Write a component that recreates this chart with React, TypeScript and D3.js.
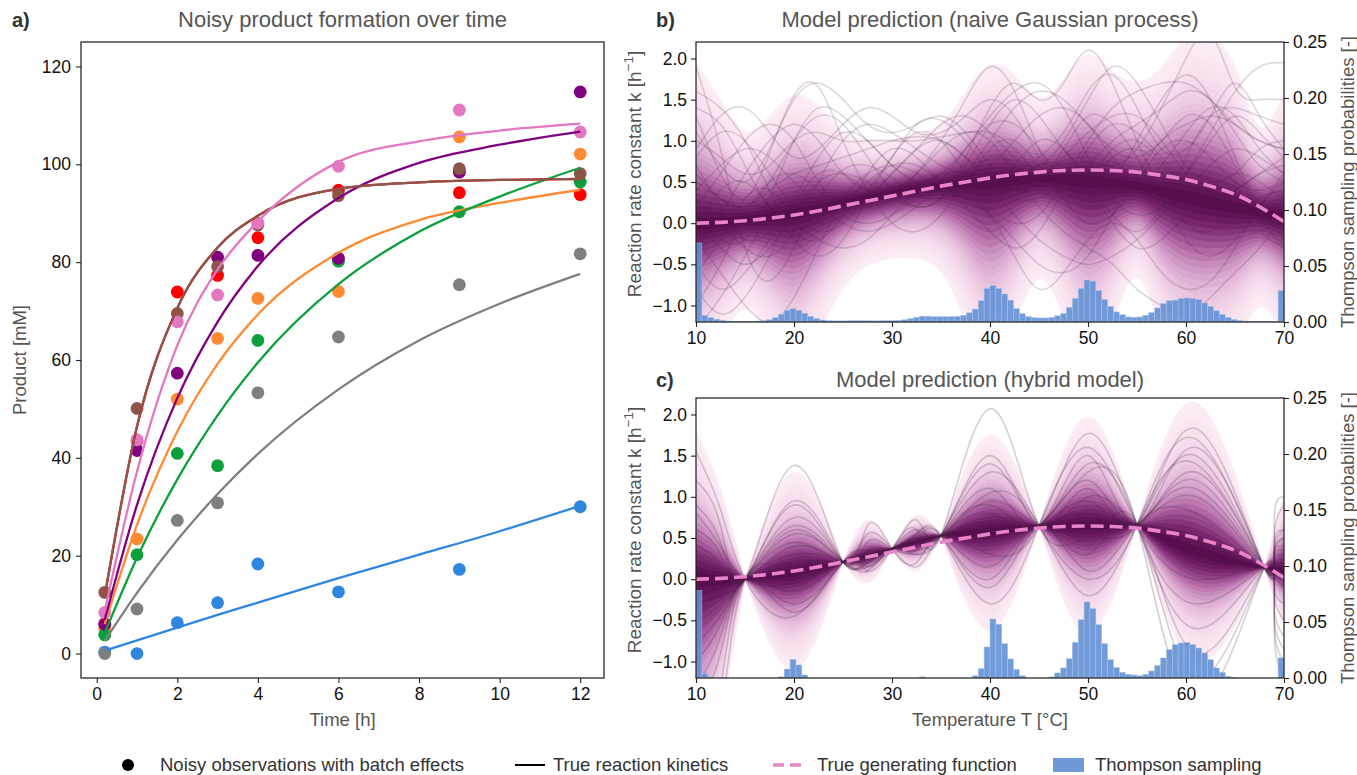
import React, { useEffect, useRef } from "react"
import * as d3 from "d3"

// ---------- panel a: noisy product formation ----------
const obsTimes = [0.2, 1, 2, 3, 4, 6, 9, 12]
const batchColors = ["#2f86de", "#ff8a33", "#0ca03c", "#ff0000", "#800080", "#8c564b", "#e377c2", "#7f7f7f"]
const batchObs = [
  [0.3, 0.0, 6.3, 10.4, 18.3, 12.6, 17.2, 30.0],
  [5.0, 23.4, 52.0, 64.4, 72.6, 74.0, 105.6, 102.1],
  [3.8, 20.2, 40.9, 38.4, 64.0, 80.2, 90.3, 96.4],
  [6.1, 43.5, 73.9, 77.3, 85.0, 94.7, 94.2, 93.8],
  [6.0, 41.5, 57.3, 81.0, 81.4, 80.8, 98.4, 114.8],
  [12.5, 50.1, 69.5, 79.1, 87.6, 93.6, 99.1, 98.1],
  [8.4, 43.7, 67.8, 73.3, 88.0, 99.6, 111.1, 106.6],
  [0.0, 9.1, 27.2, 30.8, 53.3, 64.7, 75.4, 81.7],
]
const curveTimes = [0.2, 1, 2, 3, 4, 6, 8, 10, 12]
const batchCurves = [
  [0.6, 2.7, 5.3, 7.9, 10.4, 15.4, 20.2, 25.0, 30.2],
  [6.0, 26.3, 45.4, 59.2, 69.3, 81.9, 88.6, 92.1, 94.8],
  [4.2, 19.6, 35.6, 48.7, 59.5, 75.5, 86.2, 93.4, 99.3],
  [11.8, 46.4, 70.6, 83.0, 89.5, 95.0, 96.3, 96.8, 97.0],
  [6.9, 30.4, 52.2, 67.8, 79.2, 93.1, 100.3, 104.0, 106.7],
  [11.8, 46.4, 70.6, 83.0, 89.5, 95.0, 96.3, 96.8, 97.0],
  [8.7, 37.2, 63.0, 78.5, 88.3, 100.5, 104.7, 106.9, 108.3],
  [2.6, 12.4, 23.2, 32.6, 40.8, 54.0, 64.0, 71.5, 77.6],
]

// ---------- panel b: naive GP ----------
const gridT = [10, 12.5, 15, 17.5, 20, 22.5, 25, 27.5, 30, 32.5, 35, 37.5, 40, 42.5, 45, 47.5, 50, 52.5, 55, 57.5, 60, 62.5, 65, 67.5, 70]
const trueK = [0.0, 0.01, 0.03, 0.06, 0.1, 0.15, 0.21, 0.27, 0.33, 0.39, 0.45, 0.5, 0.55, 0.59, 0.62, 0.64, 0.645, 0.64, 0.62, 0.58, 0.53, 0.45, 0.35, 0.2, 0.02]
const gpMed = [-0.02, 0.01, 0.04, 0.08, 0.12, 0.18, 0.25, 0.31, 0.37, 0.42, 0.46, 0.49, 0.51, 0.53, 0.54, 0.54, 0.52, 0.49, 0.45, 0.39, 0.32, 0.25, 0.19, 0.13, 0.08]
const gpUp = [1.95, 1.5, 1.12, 1.3, 1.55, 1.42, 1.12, 1.02, 1.02, 1.08, 1.22, 1.6, 1.92, 1.8, 1.52, 1.75, 2.05, 1.85, 1.72, 1.9, 2.25, 2.25, 1.9, 1.18, 1.6]
const gpLo = [-1.8, -1.4, -1.05, -1.4, -1.8, -1.35, -0.8, -0.52, -0.43, -0.43, -0.6, -1.2, -1.8, -1.25, -0.68, -1.15, -1.8, -1.25, -0.66, -1.3, -1.8, -1.8, -1.5, -1.02, -1.4]
const gpSamples = [
  [1.9, 0.9, -0.3, -0.7, -0.3, 0.3, 0.65, 0.7, 0.55, 0.35, 0.3, 0.5, 0.9, 1.0, 0.7, 0.45, 0.55, 0.9, 1.0, 0.75, 0.45, 0.2, 0.0, -0.1, 0.15],
  [1.3, 0.6, 0.3, 0.85, 1.55, 1.65, 1.0, 0.4, 0.0, -0.1, 0.1, 0.5, 0.8, 0.7, 0.4, 0.3, 0.5, 0.8, 0.9, 0.7, 0.4, 0.3, 0.4, 0.6, 0.7],
  [0.5, 0.3, 0.2, 0.4, 0.6, 0.7, 0.8, 0.9, 1.0, 1.05, 1.0, 0.8, 0.5, 0.3, 0.3, 0.5, 0.7, 0.7, 0.9, 1.4, 2.0, 2.3, 1.65, 1.5, 1.5],
  [-0.5, -0.8, -0.6, -0.2, 0.2, 0.3, 0.2, 0.2, 0.3, 0.6, 1.0, 1.5, 1.9, 1.6, 0.9, 0.4, 0.2, 0.3, 0.5, 0.6, 0.5, 0.4, 0.2, -0.1, -0.3],
  [0.0, -0.3, -0.5, -0.3, 0.1, 0.5, 0.6, 0.5, 0.3, 0.2, 0.3, 0.8, 1.4, 1.7, 1.5, 1.7, 2.1, 1.7, 1.0, 0.4, 0.0, -0.1, 0.1, 0.3, 0.4],
  [1.4, 1.2, 0.7, 0.2, 0.0, -0.2, -0.3, -0.2, 0.1, 0.4, 0.6, 0.6, 0.4, 0.1, -0.2, -0.4, -0.5, -0.4, -0.2, 0.1, 0.4, 0.7, 0.9, 0.8, 0.6],
  [-0.3, 0.1, 0.6, 1.0, 1.2, 1.0, 0.6, 0.4, 0.4, 0.6, 0.9, 1.1, 1.0, 0.6, 0.2, -0.1, -0.3, -0.5, -0.8, -1.0, -1.1, -0.9, -0.6, -0.3, 0.1],
  [0.8, 1.1, 1.0, 0.6, 0.2, 0.0, 0.1, 0.4, 0.8, 1.2, 1.25, 1.0, 0.6, 0.4, 0.5, 0.8, 1.1, 1.3, 1.3, 1.0, 0.6, 0.3, 0.1, 0.0, 0.0],
  [-1.0, -0.5, 0.1, 0.5, 0.6, 0.4, 0.1, 0.0, 0.1, 0.3, 0.4, 0.3, 0.1, -0.2, -0.5, -0.6, -0.4, 0.1, 0.6, 1.0, 1.2, 1.3, 1.2, 1.0, 0.9],
  [0.3, 0.0, -0.3, -0.4, -0.1, 0.5, 1.0, 1.2, 1.1, 0.9, 0.7, 0.6, 0.7, 1.0, 1.3, 1.4, 1.2, 0.8, 0.5, 0.4, 0.6, 1.0, 1.3, 1.1, 0.8],
  [0.2, 0.6, 1.0, 1.2, 1.0, 0.5, 0.2, 0.3, 0.6, 0.9, 1.0, 0.8, 0.6, 0.6, 0.8, 1.1, 1.6, 1.8, 1.4, 0.9, 0.9, 1.3, 1.7, 1.3, 0.9],
  [-0.8, -1.1, -0.9, -0.4, 0.2, 0.6, 0.6, 0.4, 0.3, 0.4, 0.5, 0.4, 0.1, -0.4, -0.8, -0.6, -0.2, 0.0, -0.2, -0.6, -0.8, -0.7, -0.3, 0.2, 0.5],
  [1.0, 0.8, 0.6, 0.7, 1.0, 1.1, 1.0, 1.0, 1.0, 1.0, 1.05, 1.1, 1.1, 0.9, 0.6, 0.5, 0.7, 1.0, 1.2, 1.4, 1.6, 1.5, 1.1, 0.7, 0.5],
  [0.6, 0.3, 0.2, 0.5, 1.0, 1.3, 1.2, 0.8, 0.4, 0.2, 0.3, 0.7, 1.2, 1.5, 1.3, 0.9, 0.6, 0.4, 0.4, 0.7, 1.1, 1.4, 1.3, 0.9, 0.6],
  [-0.2, -0.6, -1.0, -1.2, -0.9, -0.3, 0.3, 0.6, 0.7, 0.6, 0.4, 0.3, 0.3, 0.5, 0.7, 0.7, 0.4, 0.0, -0.3, -0.2, 0.1, 0.4, 0.6, 0.5, 0.3],
  [1.6, 1.4, 1.0, 0.4, -0.1, -0.2, 0.1, 0.6, 0.9, 0.8, 0.5, 0.3, 0.4, 0.7, 1.0, 0.9, 0.5, 0.1, -0.1, 0.2, 0.8, 1.3, 1.4, 1.3, 1.2],
  [0.4, 0.7, 0.9, 0.8, 0.5, 0.3, 0.3, 0.5, 0.7, 0.7, 0.5, 0.2, -0.1, -0.3, -0.1, 0.4, 0.9, 1.2, 1.1, 0.8, 0.5, 0.3, 0.4, 0.6, 0.8],
  [0.1, -0.2, -0.2, 0.3, 1.0, 1.4, 1.3, 1.0, 0.7, 0.5, 0.6, 0.9, 1.2, 1.2, 0.9, 0.5, 0.3, 0.5, 1.0, 1.5, 1.8, 1.5, 0.8, 0.2, -0.2],
  [0.9, 1.3, 1.4, 1.1, 0.8, 0.9, 1.2, 1.4, 1.3, 1.1, 1.1, 1.3, 1.5, 1.3, 0.8, 0.3, 0.0, 0.1, 0.5, 0.9, 1.0, 0.8, 0.5, 0.4, 0.5],
  [-0.6, -0.2, 0.3, 0.4, 0.1, -0.1, 0.0, 0.3, 0.6, 0.9, 1.2, 1.3, 1.1, 0.8, 0.7, 1.0, 1.5, 1.9, 1.7, 1.2, 0.7, 0.5, 0.6, 0.9, 1.0],
  [1.1, 0.7, 0.5, 0.9, 1.5, 1.7, 1.5, 1.2, 1.1, 1.2, 1.3, 1.1, 0.7, 0.4, 0.5, 0.9, 1.3, 1.2, 0.8, 0.3, -0.2, -0.4, -0.2, 0.2, 0.6],
  [0.0, 0.4, 0.5, 0.2, -0.2, -0.4, -0.2, 0.3, 0.8, 1.1, 1.0, 0.6, 0.2, 0.0, 0.1, 0.5, 1.0, 1.4, 1.6, 1.7, 1.7, 1.5, 1.2, 1.0, 0.9],
  [-1.3, -0.9, -0.4, 0.1, 0.3, 0.2, 0.0, -0.1, 0.0, 0.2, 0.5, 0.9, 1.3, 1.6, 1.7, 1.4, 0.8, 0.3, 0.1, 0.2, 0.6, 1.1, 1.6, 1.9, 1.95],
  [0.7, 0.2, -0.2, -0.1, 0.3, 0.8, 1.1, 1.0, 0.7, 0.5, 0.4, 0.6, 1.0, 1.4, 1.6, 1.5, 1.2, 0.9, 0.8, 1.0, 1.3, 1.2, 0.7, 0.1, -0.3],
]
// Thompson sampling histogram, 100 bins of 0.6 °C from 10 to 70
const gpHist = [
  0.0705, 0.006, 0.004, 0.0025, 0.0015, 0.0008, 0.0005, 0.0004, 0.0004, 0.0005,
  0.0008, 0.0012, 0.002, 0.004, 0.007, 0.0105, 0.0118, 0.0105, 0.0078, 0.005,
  0.003, 0.0018, 0.0012, 0.001, 0.001, 0.001, 0.0012, 0.0012, 0.0011, 0.0011,
  0.001, 0.0011, 0.0012, 0.0012, 0.0015, 0.002, 0.003, 0.0042, 0.0052, 0.0052,
  0.0048, 0.0048, 0.0047, 0.0048, 0.005, 0.006, 0.0082, 0.0115, 0.019, 0.03,
  0.0325, 0.03, 0.025, 0.0195, 0.012, 0.0075, 0.0048, 0.0038, 0.0036, 0.0036,
  0.004, 0.0055, 0.0075, 0.013, 0.021, 0.03, 0.0375, 0.0365, 0.028, 0.02,
  0.014, 0.009, 0.0065, 0.0045, 0.0042, 0.0045, 0.006, 0.0085, 0.0125, 0.0165,
  0.019, 0.0195, 0.021, 0.0215, 0.021, 0.02, 0.017, 0.014, 0.01, 0.0068,
  0.004, 0.0022, 0.0012, 0.0008, 0.0006, 0.0005, 0.0005, 0.0005, 0.0005, 0.028,
]

// ---------- panel c: hybrid model ----------
const pinchT = [15, 25, 30, 35, 45, 55, 68]
const pinchK = [0.0, 0.21, 0.37, 0.53, 0.65, 0.66, 0.14]
const hybridT = [10, 12.5, 20, 27.5, 32.5, 40, 50, 61, 69, 70]
const hybridMed = [0.02, 0.0, 0.08, 0.28, 0.45, 0.58, 0.65, 0.33, 0.12, 0.1]
const hybridUp = [1.8, 1.1, 1.3, 0.72, 0.78, 1.75, 1.97, 2.15, 0.6, 1.05]
const hybridLo = [-3.0, -1.7, -1.1, -0.05, 0.1, -0.62, -0.66, -1.0, -0.25, -0.6]
const hybridSamples = [
  [1.55, 0.85, -0.45, 0.1, 0.6, 2.07, 0.5, 1.5, 0.5, 0.9],
  [1.2, 0.65, 1.38, 0.65, 0.2, 0.3, 1.77, -0.3, -0.1, -0.3],
  [0.9, 0.45, 0.95, 0.25, 0.72, 1.5, 1.1, 1.83, 0.7, 1.0],
  [0.6, 0.3, 0.9, 0.45, 0.3, 1.3, 0.0, 1.7, 0.4, 0.6],
  [0.3, 0.15, 0.75, 0.2, 0.55, -0.3, 1.6, 0.0, -0.2, -0.5],
  [0.1, 0.05, 0.6, 0.35, 0.45, 1.1, 1.5, 1.6, 0.3, 0.5],
  [-0.1, -0.05, 0.55, 0.15, 0.6, 1.05, -0.2, 1.4, 0.2, 0.3],
  [-0.3, -0.2, 0.45, 0.55, 0.15, 0.9, 1.4, -0.6, -0.3, -0.7],
  [-0.6, -0.35, 0.3, 0.1, 0.3, 0.8, 1.2, 1.3, 0.25, 0.35],
  [-0.8, -0.45, 0.2, 0.3, 0.5, 0.7, 0.95, 1.2, 0.35, 0.6],
  [-1.0, -0.55, 0.0, 0.25, 0.4, 0.6, 0.8, 1.0, 0.3, 0.5],
  [-1.3, -0.7, -0.15, 0.2, 0.35, 0.15, 0.3, -0.9, -0.4, -0.85],
  [-1.6, -0.9, -0.3, 0.35, 0.55, 0.0, 0.1, 0.8, 0.1, 0.1],
  [-2.2, -1.3, -0.4, 0.15, 0.5, -0.1, 0.5, -1.2, -0.5, -1.0],
  [-2.8, -1.7, 0.1, 0.3, 0.45, 1.4, 1.0, 0.3, 0.05, -0.1],
  [0.4, 0.2, 0.4, 0.25, 0.4, 0.5, 0.7, 1.1, 0.3, 0.4],
  [0.8, 0.4, -0.05, 0.3, 0.5, 0.95, 0.6, 0.5, 0.15, 0.2],
  [-0.4, -0.2, 0.65, 0.2, 0.35, 0.6, 1.3, -1.5, -0.6, -1.2],
]
const hybridHist = [
  0.078, 0.004, 0.001, 0, 0, 0, 0, 0, 0, 0,
  0, 0, 0, 0, 0.001, 0.008, 0.0164, 0.0116, 0.0027, 0,
  0, 0, 0, 0, 0, 0, 0, 0, 0, 0,
  0, 0, 0, 0, 0, 0, 0, 0, 0.001, 0,
  0, 0, 0, 0, 0, 0, 0, 0.002, 0.0083, 0.0277,
  0.0527, 0.048, 0.0307, 0.017, 0.0075, 0.002, 0, 0, 0, 0,
  0.001, 0.0045, 0.009, 0.0173, 0.0318, 0.052, 0.0679, 0.0619, 0.0476, 0.0307,
  0.0164, 0.0095, 0.005, 0.0033, 0.0027, 0.002, 0.0033, 0.0063, 0.011, 0.0179,
  0.0253, 0.0298, 0.0313, 0.0318, 0.0298, 0.0268, 0.0223, 0.0164, 0.009, 0.005,
  0.0015, 0.0006, 0, 0, 0, 0, 0, 0, 0, 0.018,
]

const FONT = "Liberation Sans, Arial, Helvetica, sans-serif"
const LABEL_GRAY = "#555555"
const TICK_SIZE = 17.5
const LABEL_SIZE = 18.5
const TITLE_SIZE = 22
const densityRamp = d3.interpolateRgbBasis(["#fcecf5", "#f1d1e6", "#d7a3cd", "#aa5c9e", "#74216a", "#570d4e"])

export default function App() {
  const ref = useRef<SVGSVGElement>(null)

  useEffect(() => {
    const svg = d3.select(ref.current)
    svg.selectAll("*").remove()
    svg.style("font-family", FONT)

    const styleAxis = (g: any) => {
      g.select(".domain").remove()
      g.selectAll(".tick line").attr("stroke", "#222").attr("stroke-width", 1.1)
      g.selectAll(".tick text").attr("font-size", TICK_SIZE).attr("fill", "#111").attr("font-family", FONT)
    }

    // ===== panel a =====
    const A = { left: 81, right: 604, top: 42, bottom: 678 }
    const xA = d3.scaleLinear().domain([-0.39, 12.59]).range([A.left, A.right])
    const yA = d3.scaleLinear().domain([-5, 125]).range([A.bottom, A.top])
    const ga = svg.append("g")

    batchObs.forEach((vals, b) => {
      ga.append("g").selectAll("circle").data(vals).enter().append("circle")
        .attr("cx", (_, i) => xA(obsTimes[i]))
        .attr("cy", d => yA(d))
        .attr("r", 6.4)
        .attr("fill", batchColors[b])
    })
    const lineA = d3.line<number>().x((_, i) => xA(curveTimes[i])).y(d => yA(d)).curve(d3.curveMonotoneX)
    batchCurves.forEach((vals, b) => {
      ga.append("path").datum(vals).attr("d", lineA).attr("fill", "none")
        .attr("stroke", batchColors[b]).attr("stroke-width", 2.3)
    })

    ga.append("g").attr("transform", `translate(${A.left},0)`)
      .call(d3.axisLeft(yA).tickValues([0, 20, 40, 60, 80, 100, 120]).tickSize(5).tickPadding(5))
      .call(styleAxis)
    ga.append("g").attr("transform", `translate(0,${A.bottom})`)
      .call(d3.axisBottom(xA).tickValues([0, 2, 4, 6, 8, 10, 12]).tickSize(5).tickPadding(5))
      .call(styleAxis)
    ga.append("rect").attr("x", A.left).attr("y", A.top).attr("width", A.right - A.left).attr("height", A.bottom - A.top)
      .attr("fill", "none").attr("stroke", "#222").attr("stroke-width", 1.25)

    ga.append("text").attr("x", (A.left + A.right) / 2).attr("y", 27).attr("text-anchor", "middle")
      .attr("font-size", TITLE_SIZE).attr("fill", LABEL_GRAY).text("Noisy product formation over time")
    ga.append("text").attr("x", 12).attr("y", 27).attr("font-size", 20).attr("font-weight", "bold")
      .attr("fill", "#333").text("a)")
    ga.append("text").attr("x", (A.left + A.right) / 2).attr("y", 726).attr("text-anchor", "middle")
      .attr("font-size", LABEL_SIZE).attr("fill", LABEL_GRAY).text("Time [h]")
    ga.append("text").attr("transform", `translate(26,${(A.top + A.bottom) / 2}) rotate(-90)`)
      .attr("text-anchor", "middle").attr("font-size", LABEL_SIZE).attr("fill", LABEL_GRAY).text("Product [mM]")

    // ===== panels b, c =====
    const xT = d3.scaleLinear().domain([10, 70]).range([696, 1284])
    const nBands = 26

    const drawPanel = (top: number, bottom: number, id: string, hybrid: boolean) => {
      const yK = d3.scaleLinear().domain([-1.2, 2.2]).range([bottom, top])
      const yP = d3.scaleLinear().domain([0, 0.25]).range([bottom, top])
      const g = svg.append("g")
      g.append("clipPath").attr("id", id).append("rect")
        .attr("x", xT(10)).attr("y", top).attr("width", xT(70) - xT(10)).attr("height", bottom - top)
      const inner = g.append("g").attr("clip-path", `url(#${id})`)

      // density bands between median and outer envelope, outermost first
      type Seg = { t: number[]; med: number[]; up: number[]; lo: number[] }
      let segs: Seg[] = []
      if (!hybrid) {
        segs = [{ t: gridT, med: gpMed, up: gpUp, lo: gpLo }]
      } else {
        const bounds = [10, ...pinchT, 70]
        for (let s = 0; s < bounds.length - 1; s++) {
          const a = bounds[s], b = bounds[s + 1]
          const seg: Seg = { t: [], med: [], up: [], lo: [] }
          const pa = pinchT.indexOf(a), pb = pinchT.indexOf(b)
          if (pa >= 0) { seg.t.push(a); seg.med.push(pinchK[pa]); seg.up.push(pinchK[pa]); seg.lo.push(pinchK[pa]) }
          hybridT.forEach((t, i) => {
            if (t >= a && t <= b && pinchT.indexOf(t) < 0) {
              seg.t.push(t); seg.med.push(hybridMed[i]); seg.up.push(hybridUp[i]); seg.lo.push(hybridLo[i])
            }
          })
          if (pb >= 0) { seg.t.push(b); seg.med.push(pinchK[pb]); seg.up.push(pinchK[pb]); seg.lo.push(pinchK[pb]) }
          segs.push(seg)
        }
      }
      for (let i = nBands; i >= 1; i--) {
        const f = i / nBands
        const col = densityRamp(Math.pow((nBands - i + 1) / nBands, 1.8))
        segs.forEach(seg => {
          const area = d3.area<number>()
            .x((_, j) => xT(seg.t[j]))
            .y0((m, j) => yK(m - f * (m - seg.lo[j])))
            .y1((m, j) => yK(m + f * (seg.up[j] - m)))
            .curve(d3.curveNatural)
          inner.append("path").datum(seg.med).attr("d", area).attr("fill", col)
            .attr("stroke", col).attr("stroke-width", 0.3)
        })
      }

      // posterior sample curves
      const sampleLine = d3.line<[number, number]>().x(d => xT(d[0])).y(d => yK(d[1])).curve(d3.curveNatural)
      const samples: [number, number][][] = hybrid
        ? hybridSamples.map(s => {
            const pts: [number, number][] = hybridT.map((t, i) => [t, s[i]] as [number, number])
            pinchT.forEach((t, i) => pts.push([t, pinchK[i]]))
            return pts.sort((p, q) => p[0] - q[0])
          })
        : gpSamples.map(s => gridT.map((t, i) => [t, s[i]] as [number, number]))
      samples.forEach(pts => {
        inner.append("path").datum(pts).attr("d", sampleLine).attr("fill", "none")
          .attr("stroke", "#4b2446").attr("stroke-opacity", hybrid ? 0.22 : 0.18).attr("stroke-width", 1.6)
      })

      // true generating function
      const trueLine = d3.line<number>().x((_, i) => xT(gridT[i])).y(d => yK(d)).curve(d3.curveNatural)
      inner.append("path").datum(trueK).attr("d", trueLine).attr("fill", "none")
        .attr("stroke", "#e884c8").attr("stroke-width", 3.6).attr("stroke-dasharray", "13,6")

      // Thompson sampling histogram (twin axis)
      const hist = hybrid ? hybridHist : gpHist
      const bars = hist.map((v, i) => ({ v, x0: 10 + i * 0.6, x1: 10 + (i + 1) * 0.6 })).filter(d => d.v > 0)
      inner.append("g").selectAll("rect").data(bars).enter().append("rect")
        .attr("x", d => xT(d.x0))
        .attr("y", d => yP(d.v))
        .attr("width", d => xT(d.x1) - xT(d.x0))
        .attr("height", d => bottom - yP(d.v))
        .attr("fill", "#5f8ed4").attr("fill-opacity", 0.88)
        .attr("stroke", "#a9c2ea").attr("stroke-width", 0.5)

      g.append("g").attr("transform", `translate(${xT(10)},0)`)
        .call(d3.axisLeft(yK).tickValues([-1, -0.5, 0, 0.5, 1, 1.5, 2]).tickFormat(d3.format(".1f")).tickSize(5).tickPadding(4))
        .call(styleAxis)
      g.append("g").attr("transform", `translate(${xT(70)},0)`)
        .call(d3.axisRight(yP).tickValues([0, 0.05, 0.1, 0.15, 0.2, 0.25]).tickFormat(d3.format(".2f")).tickSize(5).tickPadding(4))
        .call(styleAxis)
      g.append("g").attr("transform", `translate(0,${bottom})`)
        .call(d3.axisBottom(xT).tickValues([10, 20, 30, 40, 50, 60, 70]).tickSize(5).tickPadding(5))
        .call(styleAxis)
      g.append("rect").attr("x", xT(10)).attr("y", top).attr("width", xT(70) - xT(10)).attr("height", bottom - top)
        .attr("fill", "none").attr("stroke", "#222").attr("stroke-width", 1.25)

      const cy = (top + bottom) / 2
      const kl = g.append("text").attr("transform", `translate(641,${cy - 8}) rotate(-90)`)
        .attr("text-anchor", "middle").attr("font-size", LABEL_SIZE + 0.5).attr("fill", LABEL_GRAY)
      kl.append("tspan").text("Reaction rate constant k [h")
      kl.append("tspan").attr("dy", -8).attr("font-size", 13.5).text("−1")
      kl.append("tspan").attr("dy", 8).text("]")
      g.append("text").attr("transform", `translate(1354,${cy}) rotate(-90)`)
        .attr("text-anchor", "middle").attr("font-size", LABEL_SIZE).attr("fill", LABEL_GRAY)
        .text("Thompson sampling probabilities [-]")
    }

    drawPanel(42, 322, "clipB", false)
    drawPanel(398, 678, "clipC", true)

    svg.append("text").attr("x", 990).attr("y", 27).attr("text-anchor", "middle")
      .attr("font-size", TITLE_SIZE).attr("fill", LABEL_GRAY).text("Model prediction (naive Gaussian process)")
    svg.append("text").attr("x", 656).attr("y", 27).attr("font-size", 20).attr("font-weight", "bold")
      .attr("fill", "#333").text("b)")
    svg.append("text").attr("x", 990).attr("y", 387).attr("text-anchor", "middle")
      .attr("font-size", TITLE_SIZE).attr("fill", LABEL_GRAY).text("Model prediction (hybrid model)")
    svg.append("text").attr("x", 656).attr("y", 387).attr("font-size", 20).attr("font-weight", "bold")
      .attr("fill", "#333").text("c)")
    svg.append("text").attr("x", 990).attr("y", 726).attr("text-anchor", "middle")
      .attr("font-size", LABEL_SIZE).attr("fill", LABEL_GRAY).text("Temperature T [°C]")

    // ===== legend =====
    const lg = svg.append("g").attr("font-size", 18.5).attr("fill", "#333")
    const ly = 765
    lg.append("circle").attr("cx", 128).attr("cy", ly).attr("r", 6).attr("fill", "#000")
    lg.append("text").attr("x", 160).attr("y", ly + 6).text("Noisy observations with batch effects")
    lg.append("line").attr("x1", 515).attr("x2", 545).attr("y1", ly).attr("y2", ly).attr("stroke", "#000").attr("stroke-width", 2)
    lg.append("text").attr("x", 553).attr("y", ly + 6).text("True reaction kinetics")
    lg.append("line").attr("x1", 773).attr("x2", 806).attr("y1", ly).attr("y2", ly).attr("stroke", "#e884c8")
      .attr("stroke-width", 3.6).attr("stroke-dasharray", "11,6")
    lg.append("text").attr("x", 817).attr("y", ly + 6).text("True generating function")
    lg.append("rect").attr("x", 1053).attr("y", ly - 7).attr("width", 31).attr("height", 14).attr("fill", "#6f98d6")
    lg.append("text").attr("x", 1095).attr("y", ly + 6).text("Thompson sampling")
  }, [])

  return <svg ref={ref} width={1357} height={775} style={{ position: "absolute", left: 0, top: 0, background: "#fff" }} />
}
